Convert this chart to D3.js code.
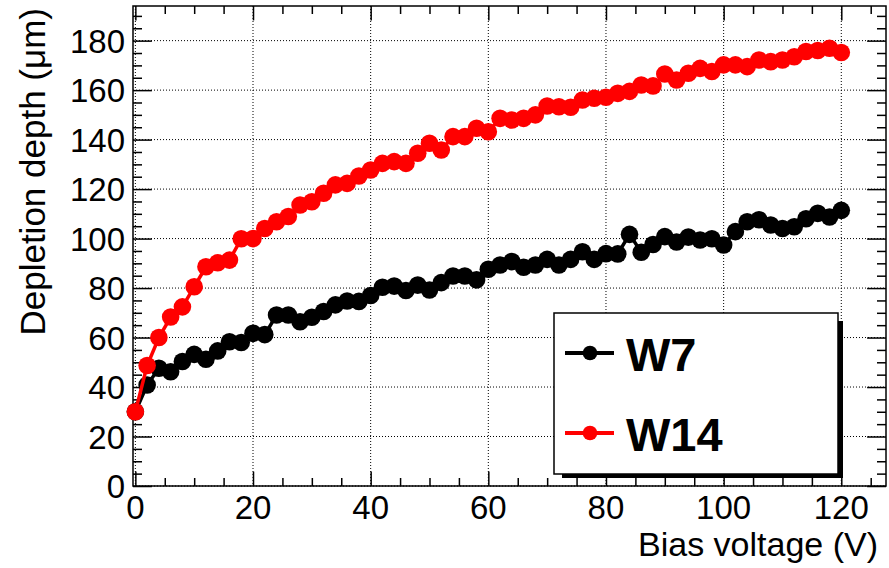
<!DOCTYPE html>
<html>
<head>
<meta charset="utf-8">
<script src="https://cdnjs.cloudflare.com/ajax/libs/d3/7.8.5/d3.min.js"></script>
<style>
  body { margin: 0; background: white; }
  svg { display: block; font-family: "Liberation Sans", Arial, Helvetica, sans-serif; }
</style>
</head>
<body>
<svg></svg>
<script>
// bias voltage in V, step 2
var voltages = d3.range(0, 121, 2);

// depletion depth (um), W7 sample
var w7Depth = [30, 40.8, 47.6, 46.2, 50.3, 53.2, 51.2, 54.6, 58.3, 58, 61.7, 61.2, 69.1, 69.1, 66.4, 68.2, 70.5, 73.2, 74.8, 74.6,
  77, 80.3, 80.8, 79, 81.2, 79.2, 82.2, 84.9, 84.9, 83.3, 87.6, 89.3, 90.7, 88.4, 89.3, 91.6, 89.3, 91.6, 94.7, 91.6,
  93.9, 93.8, 101.7, 94.5, 97.6, 100.8, 98.6, 100.6, 99.4, 99.9, 97.4, 102.8, 106.8, 107.6, 105.5, 104.1, 104.8, 108, 110.2, 108.7, 111.4];

// depletion depth (um), W14 sample
var w14Depth = [30, 48.7, 60, 68.3, 72.4, 80.5, 88.6, 90.2, 91.3, 99.9, 100, 104.1, 106.8, 108.9, 113.6, 114.9, 118.3, 121.7, 122.3, 125.3,
  127.7, 130.4, 131.1, 130.4, 134.5, 138.5, 135.8, 141.2, 141.2, 144.6, 143.2, 148.6, 147.9, 148.6, 150, 153.6, 153.3, 153.1, 156, 156.7,
  157.1, 158.7, 159.5, 162.1, 161.7, 166.5, 164.1, 166.8, 168.8, 167.5, 170.2, 170.2, 169.5, 172.2, 171.5, 172.2, 173.5, 175.6, 176, 176.9, 175.2];

var xTicks = [0, 20, 40, 60, 80, 100, 120];
var yTicks = [0, 20, 40, 60, 80, 100, 120, 140, 160, 180];
var seriesNames = ['W7', 'W14'];
var seriesColors = ['#000000', '#ff0000'];

var width = 889, height = 568;
var frame = {left: 133, right: 886, top: 6, bottom: 486};

var svg = d3.select('svg').attr('width', width).attr('height', height);
svg.append('rect').attr('width', width).attr('height', height).attr('fill', 'white');

var x = d3.scaleLinear().domain([-0.4, 127.6]).range([frame.left, frame.right]);
var y = d3.scaleLinear().domain([0, 194]).range([frame.bottom, frame.top]);

// dotted grid
svg.append('g').selectAll('line').data(xTicks).enter().append('line')
  .attr('x1', function(d){ return x(d); }).attr('x2', function(d){ return x(d); })
  .attr('y1', frame.top).attr('y2', frame.bottom)
  .attr('stroke', 'black').attr('stroke-width', 1).attr('stroke-dasharray', '1,2');
svg.append('g').selectAll('line').data(yTicks).enter().append('line')
  .attr('y1', function(d){ return y(d); }).attr('y2', function(d){ return y(d); })
  .attr('x1', frame.left).attr('x2', frame.right)
  .attr('stroke', 'black').attr('stroke-width', 1).attr('stroke-dasharray', '1,2');

// axes, ROOT style ticks pointing inward
var bottomAxis = d3.axisTop(x).tickValues(d3.range(0, 126, 5)).tickSize(8).tickFormat('');
var topAxis = d3.axisBottom(x).tickValues(d3.range(0, 126, 5)).tickSize(8).tickFormat('');
var leftAxis = d3.axisRight(y).tickValues(d3.range(0, 191, 5)).tickSize(9).tickFormat('');
var rightAxis = d3.axisLeft(y).tickValues(d3.range(0, 191, 5)).tickSize(9).tickFormat('');

function styleAxis(g) {
  g.select('.domain').remove();
  g.selectAll('.tick line').attr('stroke', 'black').attr('stroke-width', 1.5);
  g.selectAll('.tick').filter(function(d){ return d % 20 === 0; }).select('line')
    .attr('x2', function(){ var v = +d3.select(this).attr('x2'); return v ? v * 2.1 : 0; })
    .attr('y2', function(){ var v = +d3.select(this).attr('y2'); return v ? v * 1.8 : 0; });
}

svg.append('g').attr('transform', 'translate(0,' + frame.bottom + ')').call(bottomAxis).call(styleAxis);
svg.append('g').attr('transform', 'translate(0,' + frame.top + ')').call(topAxis).call(styleAxis);
svg.append('g').attr('transform', 'translate(' + frame.left + ',0)').call(leftAxis).call(styleAxis);
svg.append('g').attr('transform', 'translate(' + frame.right + ',0)').call(rightAxis).call(styleAxis);

svg.append('rect')
  .attr('x', frame.left).attr('y', frame.top)
  .attr('width', frame.right - frame.left).attr('height', frame.bottom - frame.top)
  .attr('fill', 'none').attr('stroke', 'black').attr('stroke-width', 1.5);

// tick labels
svg.append('g').selectAll('text').data(xTicks).enter().append('text')
  .attr('x', function(d){ return x(d); }).attr('y', 519)
  .attr('text-anchor', 'middle').style('font-size', '33px')
  .text(function(d){ return d; });
svg.append('g').selectAll('text').data(yTicks).enter().append('text')
  .attr('x', 125).attr('y', function(d){ return y(d) + 12; })
  .attr('text-anchor', 'end').style('font-size', '33px')
  .text(function(d){ return d; });

// axis titles
svg.append('text')
  .attr('x', 878).attr('y', 556)
  .attr('text-anchor', 'end').style('font-size', '34px')
  .text('Bias voltage (V)');
svg.append('text')
  .attr('transform', 'translate(45, 8)rotate(-90)')
  .attr('text-anchor', 'end').style('font-size', '35px')
  .text('Depletion depth (\u03bcm)');

// series
var line = d3.line()
  .x(function(d){ return x(d[0]); })
  .y(function(d){ return y(d[1]); });

[w7Depth, w14Depth].forEach(function(vals, i) {
  var pts = voltages.map(function(v, j){ return [v, vals[j]]; });
  svg.append('path').datum(pts)
    .attr('d', line).attr('fill', 'none')
    .attr('stroke', seriesColors[i]).attr('stroke-width', 3.5);
  svg.append('g').selectAll('circle').data(pts).enter().append('circle')
    .attr('cx', function(d){ return x(d[0]); })
    .attr('cy', function(d){ return y(d[1]); })
    .attr('r', 8.8)
    .attr('fill', seriesColors[i]);
});

// legend with shadow
var legend = svg.append('g');
legend.append('rect').attr('x', 562).attr('y', 321).attr('width', 281).attr('height', 157).attr('fill', 'black');
legend.append('rect').attr('x', 554).attr('y', 313).attr('width', 284).attr('height', 161)
  .attr('fill', 'white').attr('stroke', 'black').attr('stroke-width', 1.5);

seriesNames.forEach(function(name, i) {
  var cy = 353 + i * 80;
  legend.append('line').attr('x1', 565).attr('x2', 614).attr('y1', cy).attr('y2', cy)
    .attr('stroke', seriesColors[i]).attr('stroke-width', 4);
  legend.append('circle').attr('cx', 590).attr('cy', cy).attr('r', 7.3).attr('fill', seriesColors[i]);
  legend.append('text').attr('x', 626).attr('y', cy + 18)
    .style('font-size', '47px').style('font-weight', 'bold')
    .text(name);
});
</script>
</body>
</html>
